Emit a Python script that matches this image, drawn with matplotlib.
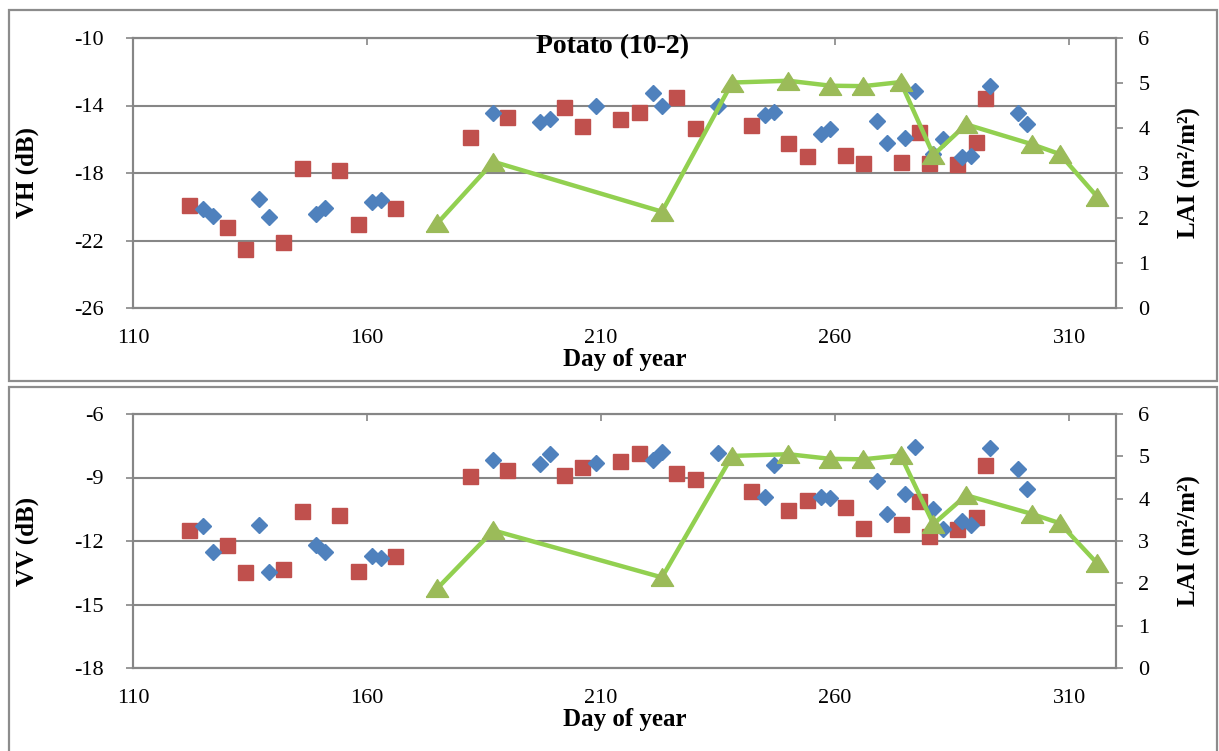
import numpy as np
import matplotlib
matplotlib.use("Agg")
import matplotlib.pyplot as plt
from matplotlib.patches import Rectangle
from matplotlib.path import Path

plt.rcParams["font.family"] = ["Liberation Serif", "DejaVu Serif"]
plt.rcParams["axes.unicode_minus"] = False

# --- data ---
red_days = [122, 130, 134, 142, 146, 154, 158, 166, 182, 190, 202, 206, 214, 218,
            226, 230, 242, 250, 254, 262, 266, 274, 278, 280, 286, 290, 292]
red_vh = [-19.9, -21.2, -22.5, -22.1, -17.7, -17.8, -21.0, -20.1, -15.85, -14.66,
          -14.1, -15.2, -14.8, -14.37, -13.5, -15.35, -15.15, -16.2, -17.0, -16.95,
          -17.4, -17.33, -15.55, -17.4, -17.45, -16.18, -13.54]
red_vv = [-11.48, -12.19, -13.46, -13.32, -10.6, -10.76, -13.43, -12.69, -8.91, -8.63,
          -8.88, -8.52, -8.2, -7.86, -8.79, -9.07, -9.62, -10.53, -10.05, -10.38,
          -11.39, -11.18, -10.1, -11.75, -11.43, -10.85, -8.39]

blue_days = [125, 127, 137, 139, 149, 151, 161, 163, 187, 197, 199, 209, 221, 223, 235,
             245, 247, 257, 259, 269, 271, 275, 277, 281, 283, 287, 289, 293, 299, 301]
blue_vh = [-20.15, -20.55, -19.56, -20.59, -20.45, -20.05, -19.7, -19.62, -14.42, -14.98,
           -14.78, -14.05, -13.24, -14.0, -14.03, -14.56, -14.4, -15.7, -15.4, -14.9,
           -16.22, -15.95, -13.12, -16.9, -15.98, -17.07, -16.99, -12.83, -14.46, -15.11]
blue_vv = [-11.29, -12.5, -11.23, -13.48, -12.17, -12.52, -12.72, -12.82, -8.17, -8.38,
           -7.9, -8.3, -8.17, -7.78, -7.86, -9.94, -8.41, -9.9, -9.98, -9.15,
           -10.71, -9.78, -7.54, -10.49, -11.43, -11.04, -11.24, -7.6, -8.6, -9.54]

lai_days = [175, 187, 223, 238, 250, 259, 266, 274, 281, 288, 302, 308, 316]
lai = [1.88, 3.25, 2.14, 5.01, 5.05, 4.94, 4.93, 5.02, 3.4, 4.08, 3.64, 3.42, 2.47]

x_ticks = [110, 160, 210, 260, 310]

GRAY = "#868686"
W, H = 1219, 751

# wide, squat triangle like the Excel marker
tri = Path([(-1, -0.8), (1, -0.8), (0, 0.8), (-1, -0.8)])


def px_axes(x0, y0, x1, y1):
    """Axes rectangle from pixel corners (top-left origin)."""
    return [x0 / W, 1 - y1 / H, (x1 - x0) / W, (y1 - y0) / H]


def draw_panel(fig, rect, vals_red, vals_blue, ylim, yticks, ylabel):
    ax = fig.add_axes(rect)
    ax.plot(red_days, vals_red, ls="none", marker="s", ms=10.8,
            color="#C0504D", mec="#C0504D", zorder=3)
    ax.plot(blue_days, vals_blue, ls="none", marker="D", ms=7.8,
            color="#4F81BD", mec="#4F81BD", zorder=4)

    ax.set_xlim(110, 320)
    ax.set_ylim(*ylim)
    ax.set_xticks(x_ticks)
    ax.set_yticks(yticks)
    ax.yaxis.grid(True, color=GRAY, lw=1.5)
    ax.set_axisbelow(True)
    for s in ax.spines.values():
        s.set_color(GRAY)
        s.set_linewidth(1.5)

    ax.tick_params(axis="x", bottom=False, top=True, labelbottom=True, labeltop=False,
                   direction="in", length=5, width=1.2, color=GRAY, pad=15,
                   labelsize=16)
    ax.tick_params(axis="y", direction="out", length=5, width=1.2, color=GRAY,
                   pad=16, labelsize=16)
    ax.set_xlabel("Day of year", fontsize=18, fontweight="bold", labelpad=0)
    ax.set_ylabel(ylabel, fontsize=18, fontweight="bold")
    ax.yaxis.set_label_coords(-0.096, 0.5)

    ax2 = ax.twinx()
    ax2.plot(lai_days, lai, color="#92D050", lw=3.2, marker=tri, ms=16,
             mfc="#9BBB59", mec="#9BBB59", zorder=5)
    ax2.set_ylim(0, 6)
    ax2.set_yticks(range(0, 7))
    ax2.tick_params(axis="y", direction="out", length=5, width=1.2, color=GRAY,
                    pad=11, labelsize=16)
    for s in ax2.spines.values():
        s.set_color(GRAY)
        s.set_linewidth(1.5)
    ax2.set_ylabel("LAI (m²/m²)", fontsize=18, fontweight="bold")
    ax2.yaxis.set_label_coords(1.063, 0.5)
    return ax, ax2


fig = plt.figure(figsize=(W / 100, H / 100), dpi=100)

# chart borders
fig.add_artist(Rectangle((9 / W, 1 - 381 / H), 1208 / W, 371 / H,
                         transform=fig.transFigure, fill=False, ec="#8C8C8C", lw=1.6))
fig.add_artist(Rectangle((9 / W, -0.02), 1208 / W, 1 - 387 / H + 0.02,
                         transform=fig.transFigure, fill=False, ec="#8C8C8C", lw=1.6))

draw_panel(fig, px_axes(133, 38, 1116, 308), red_vh, blue_vh,
           (-26, -10), [-26, -22, -18, -14, -10], "VH (dB)")
draw_panel(fig, px_axes(133, 414, 1116, 668), red_vv, blue_vv,
           (-18, -6), [-18, -15, -12, -9, -6], "VV (dB)")

fig.text(613 / W, 1 - 47 / H, "Potato (10-2)", fontsize=20, fontweight="bold",
         ha="center", va="center")

fig.savefig("out.png", dpi=100)
